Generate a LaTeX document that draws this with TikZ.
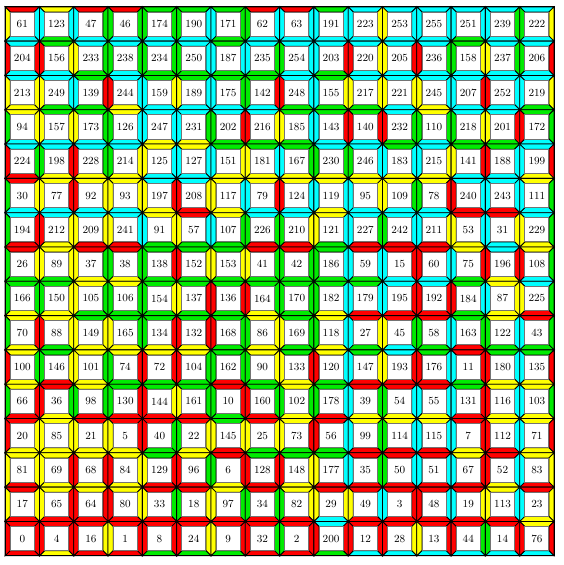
\documentclass[tikz,border=0pt]{standalone}
\usepackage{xcolor}
\usetikzlibrary{positioning}
\definecolor{c0}{RGB}{255,0,0}
\definecolor{c1}{RGB}{255,255,0}
\definecolor{c2}{RGB}{0,235,0}
\definecolor{c3}{RGB}{0,255,255}

\begin{document}
\begin{tikzpicture}[font=\small,
  edge/.style={draw=black, line width=0.7pt, line join=miter},
  tilenum/.style={draw=black!55, line width=0.7pt, fill=white, minimum size=0.7cm, inner sep=0pt}]
  \useasboundingbox (-0.15,-0.27) rectangle (16.29,16.2);
  % one row of the solved board per entry, top row first
  \foreach \tiles [count=\rw from 0] in {
    {61,123,47,46,174,190,171,62,63,191,223,253,255,251,239,222},
    {204,156,233,238,234,250,187,235,254,203,220,205,236,158,237,206},
    {213,249,139,244,159,189,175,142,248,155,217,221,245,207,252,219},
    {94,157,173,126,247,231,202,216,185,143,140,232,110,218,201,172},
    {224,198,228,214,125,127,151,181,167,230,246,183,215,141,188,199},
    {30,77,92,93,197,208,117,79,124,119,95,109,78,240,243,111},
    {194,212,209,241,91,57,107,226,210,121,227,242,211,53,31,229},
    {26,89,37,38,138,152,153,41,42,186,59,15,60,75,196,108},
    {166,150,105,106,154,137,136,164,170,182,179,195,192,184,87,225},
    {70,88,149,165,134,132,168,86,169,118,27,45,58,163,122,43},
    {100,146,101,74,72,104,162,90,133,120,147,193,176,11,180,135},
    {66,36,98,130,144,161,10,160,102,178,39,54,55,131,116,103},
    {20,85,21,5,40,22,145,25,73,56,99,114,115,7,112,71},
    {81,69,68,84,129,96,6,128,148,177,35,50,51,67,52,83},
    {17,65,64,80,33,18,97,34,82,29,49,3,48,19,113,23},
    {0,4,16,1,8,24,9,32,2,200,12,28,13,44,14,76}} {
    \foreach \n [count=\cl from 0] in \tiles {
      % base-4 digits of the tile number: top, right, bottom, left
      \pgfmathtruncatemacro\dtop{div(\n,64)}
      \pgfmathtruncatemacro\dright{mod(div(\n,16),4)}
      \pgfmathtruncatemacro\dbottom{mod(div(\n,4),4)}
      \pgfmathtruncatemacro\dleft{mod(\n,4)}
      \begin{scope}[shift={(\cl,15-\rw)}]
        \filldraw[edge, fill=c\dtop] (0,1) -- (1,1) -- (0.85,0.85) -- (0.15,0.85) -- cycle;
        \filldraw[edge, fill=c\dright] (1,1) -- (1,0) -- (0.85,0.15) -- (0.85,0.85) -- cycle;
        \filldraw[edge, fill=c\dbottom] (1,0) -- (0,0) -- (0.15,0.15) -- (0.85,0.15) -- cycle;
        \filldraw[edge, fill=c\dleft] (0,0) -- (0,1) -- (0.15,0.85) -- (0.15,0.15) -- cycle;
        \node[tilenum] (t-\rw-\cl) at (0.5,0.5) {\n};
      \end{scope}
    }
  }
  \draw[thick] (0,0) rectangle (16,16);
\end{tikzpicture}
\end{document}
